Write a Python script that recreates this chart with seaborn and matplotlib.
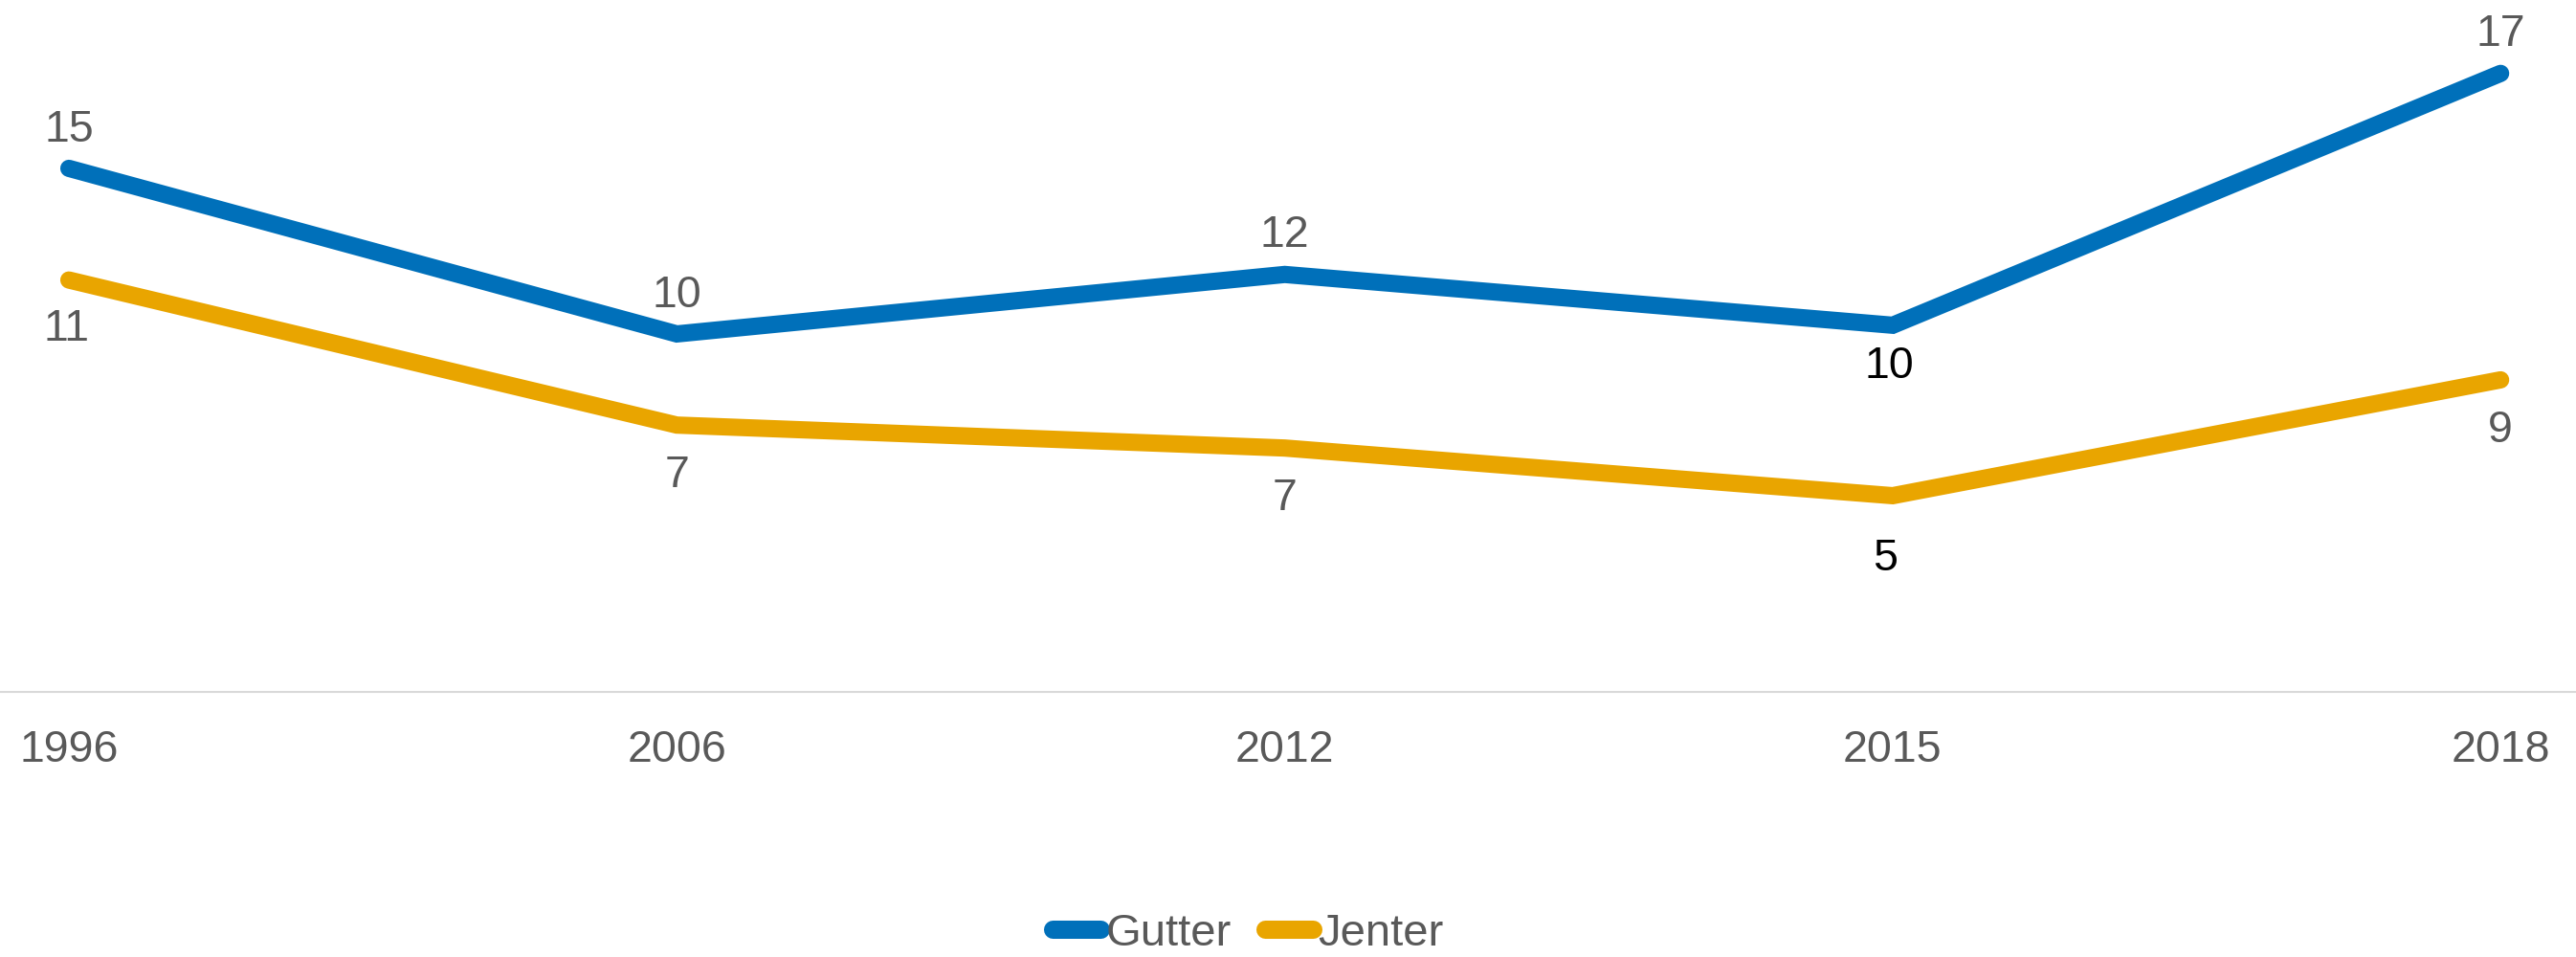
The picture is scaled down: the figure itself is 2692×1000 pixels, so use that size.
import matplotlib
matplotlib.use("Agg")
import matplotlib.pyplot as plt
import seaborn as sns
import pandas as pd

# ---- data ----
years = ["1996", "2006", "2012", "2015", "2018"]
gutter = [14.68, 9.92, 11.63, 10.17, 17.41]
jenter = [11.47, 7.30, 6.64, 5.27, 8.60]
series_names = ["Gutter", "Jenter"]

# ---- style ----
colors = {"Gutter": "#0070BA", "Jenter": "#E9A500"}
text_gray = "#595959"
DPI = 100
FS = 33.5
LEG_FS = 34
CAP_PX = 33.5
# label offsets (px, image coords: +down) from point to label centre
gut_off = [(0, -44.5), (0, -45), (0, -46), (-4, 38), (0, -45)]
jen_off = [(-2, 47), (0, 48), (0, 48), (-8, 61), (0, 48.6)]
gut_lab_col = [text_gray, text_gray, text_gray, "black", text_gray]
jen_lab_col = [text_gray, text_gray, text_gray, "black", text_gray]

sns.set_theme(style="white")
plt.rcParams["font.family"] = ["Liberation Sans", "DejaVu Sans"]

df = pd.DataFrame({
    "year": years * 2,
    "value": gutter + jenter,
    "series": [series_names[0]] * len(years) + [series_names[1]] * len(years),
})

fig = plt.figure(figsize=(26.92, 10), dpi=DPI)
ax = fig.add_axes([0, 0.277, 1, 0.723])

sns.lineplot(data=df, x="year", y="value", hue="series", palette=colors,
             linewidth=13, ax=ax, sort=False)
for ln in ax.get_lines():
    ln.set_solid_capstyle("round")
    ln.set_solid_joinstyle("miter")

ax.set_xlim(-0.1133, 4.124)
ax.set_ylim(-0.371, 19.52)
ax.set_xlabel("")
ax.set_ylabel("")
ax.set_yticks([])
for s in ["top", "left", "right"]:
    ax.spines[s].set_visible(False)
ax.spines["bottom"].set_color("#d9d9d9")
ax.spines["bottom"].set_linewidth(1.5)
ax.tick_params(axis="x", length=0, pad=28, labelsize=FS, labelcolor=text_gray)
ax.grid(False)

def put_labels(vals, offs, cols):
    for i, (v, (dx, dy), c) in enumerate(zip(vals, offs, cols)):
        ax.annotate(f"{round(v)}", xy=(i, v),
                    xytext=(dx * 0.72, -(dy + CAP_PX / 2) * 0.72),
                    textcoords="offset points", ha="center", va="baseline",
                    fontsize=FS, color=c)

put_labels(gutter, gut_off, gut_lab_col)
put_labels(jenter, jen_off, jen_lab_col)

handles, labels = ax.get_legend_handles_labels()
if ax.get_legend() is not None:
    ax.get_legend().remove()
leg = fig.legend(handles, labels, loc="lower center", bbox_to_anchor=(0.4846, 0.002),
                 ncol=2, frameon=False, fontsize=LEG_FS, handlelength=1.05,
                 handletextpad=0.13, columnspacing=0.74, borderaxespad=0,
                 borderpad=0)
for t in leg.get_texts():
    t.set_color(text_gray)
for h in leg.legend_handles:
    h.set_solid_capstyle("round")
    h.set_linewidth(13.7)

fig.savefig("out.png", dpi=DPI)
